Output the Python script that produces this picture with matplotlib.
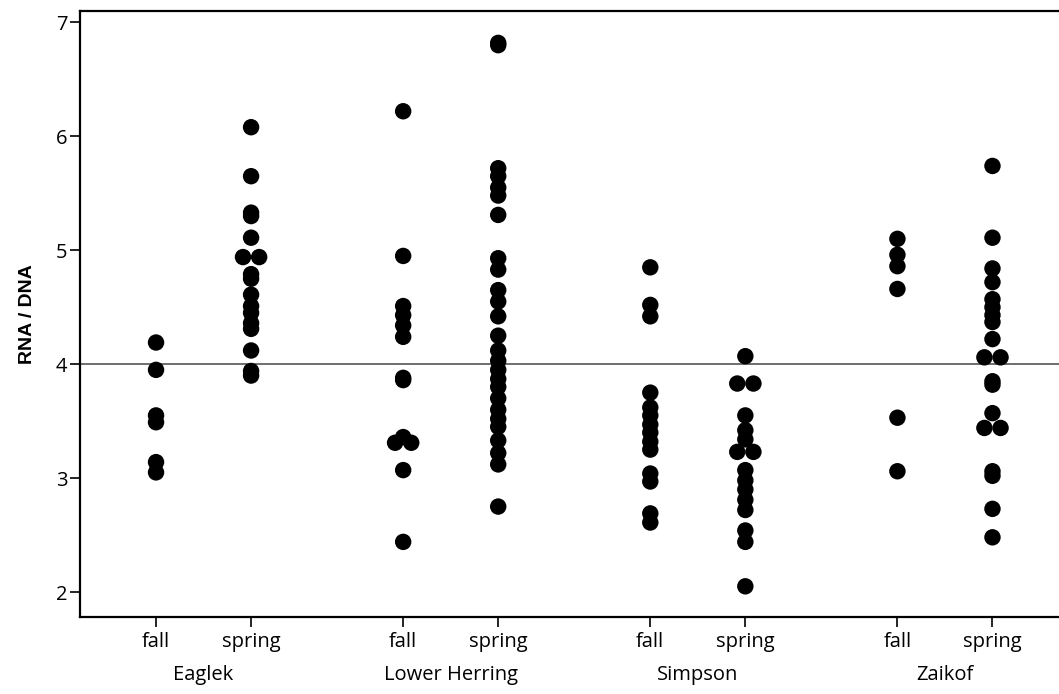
import numpy as np
import matplotlib
matplotlib.use("Agg")
import matplotlib.pyplot as plt

# RNA/DNA values per site and season
sites = ["Eaglek", "Lower Herring", "Simpson", "Zaikof"]
seasons = ["fall", "spring"]

eaglek_fall = [4.19, 3.95, 3.55, 3.49, 3.14, 3.05]
eaglek_spring = [6.08, 5.65, 5.33, 5.30, 5.11, 4.94, 4.94, 4.79, 4.75, 4.61,
                 4.51, 4.45, 4.36, 4.31, 4.12, 3.94, 3.90]
lower_herring_fall = [6.22, 4.95, 4.51, 4.43, 4.34, 4.24, 3.88, 3.86, 3.36,
                      3.31, 3.31, 3.07, 2.44]
lower_herring_spring = [6.82, 6.80, 5.72, 5.65, 5.55, 5.48, 5.31, 4.93, 4.83,
                        4.65, 4.55, 4.42, 4.25, 4.12, 4.03, 3.95, 3.87, 3.80,
                        3.70, 3.60, 3.52, 3.45, 3.33, 3.22, 3.12, 2.75]
simpson_fall = [4.85, 4.52, 4.42, 3.75, 3.62, 3.55, 3.47, 3.40, 3.32, 3.25,
                3.04, 2.97, 2.69, 2.61]
simpson_spring = [4.07, 3.83, 3.83, 3.55, 3.42, 3.34, 3.23, 3.23, 3.07, 2.98,
                  2.90, 2.81, 2.72, 2.54, 2.44, 2.05]
zaikof_fall = [5.10, 4.96, 4.86, 4.66, 3.53, 3.06]
zaikof_spring = [5.74, 5.11, 4.84, 4.72, 4.57, 4.50, 4.43, 4.37, 4.22, 4.06,
                 4.06, 3.85, 3.82, 3.57, 3.44, 3.44, 3.06, 3.02, 2.73, 2.48]

groups = [eaglek_fall, eaglek_spring, lower_herring_fall, lower_herring_spring,
          simpson_fall, simpson_spring, zaikof_fall, zaikof_spring]
reference_value = 4.0


def dot_offsets(values, step=0.17):
    # equal values sit side by side, centred on the column
    values = np.round(np.asarray(values), 2)
    offsets = np.zeros(len(values))
    for v in np.unique(values):
        idx = np.where(values == v)[0]
        n = len(idx)
        offsets[idx] = (np.arange(n) - (n - 1) / 2) * step
    return offsets


fig = plt.figure(figsize=(10.59, 6.94), dpi=100)
ax = fig.add_axes([80 / 1059, 77.5 / 694, 1 - 80 / 1059, 605.5 / 694])

tick_font = ["Open Sans", "DejaVu Sans"]
fs = 14.5

positions = []
for i in range(len(sites)):
    for j in range(len(seasons)):
        positions.append(2.6 * i + j)

for pos, vals in zip(positions, groups):
    x = pos + dot_offsets(vals)
    ax.scatter(x, vals, s=140, color="black", edgecolors="none", zorder=3)

ax.axhline(reference_value, color="#555555", linewidth=1.2, zorder=1)

ax.set_xlim(-0.80, 9.50)
ax.set_ylim(1.785, 7.10)
ax.set_yticks([2, 3, 4, 5, 6, 7])
ax.set_xticks(positions)
ax.set_xticklabels(seasons * len(sites), fontsize=fs, family=tick_font)
for lbl in ax.get_yticklabels():
    lbl.set_fontsize(fs)
    lbl.set_family(tick_font)

ax.tick_params(axis="both", direction="out", length=7, width=1.2, color="black")
ax.tick_params(axis="x", pad=4)
ax.tick_params(axis="y", pad=2)

for i, site in enumerate(sites):
    ax.text(2.6 * i + 0.5, -0.097, site, transform=ax.get_xaxis_transform(),
            ha="center", va="center", fontsize=fs, family=tick_font)

ax.set_ylabel("RNA / DNA", fontsize=14, fontweight="bold",
              family=["Liberation Sans Narrow", "Liberation Sans", "DejaVu Sans"],
              labelpad=14)

for side in ["left", "top", "bottom"]:
    ax.spines[side].set_linewidth(1.6)
    ax.spines[side].set_color("black")
ax.spines["right"].set_visible(False)

fig.savefig("out.png", dpi=100)
